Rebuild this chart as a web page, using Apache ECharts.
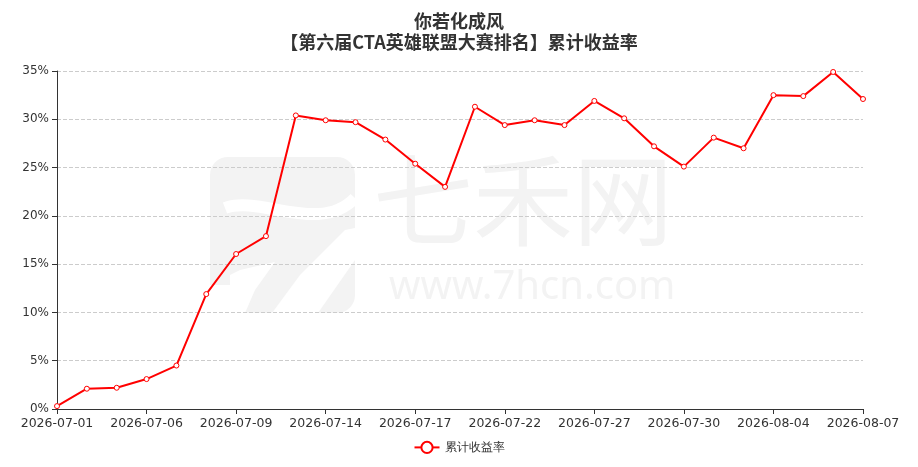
<!DOCTYPE html>
<html><head><meta charset="utf-8">
<script src="https://cdn.jsdelivr.net/npm/echarts@6/dist/echarts.min.js"></script>
<style>html,body{margin:0;padding:0;background:#fff}#c{width:918px;height:467px}</style>
</head><body><div id="c"></div>
<script>
const titleLines = ['你若化成风', '【第六届CTA英雄联盟大赛排名】累计收益率'];
const seriesName = '累计收益率';
const dates = ['2026-07-01','2026-07-02','2026-07-03','2026-07-06','2026-07-07','2026-07-08','2026-07-09','2026-07-10','2026-07-13','2026-07-14','2026-07-15','2026-07-16','2026-07-17','2026-07-20','2026-07-21','2026-07-22','2026-07-23','2026-07-24','2026-07-27','2026-07-28','2026-07-29','2026-07-30','2026-07-31','2026-08-03','2026-08-04','2026-08-05','2026-08-06','2026-08-07'];
const values = [0.3,2.1,2.2,3.1,4.5,11.9,16.05,17.9,30.4,29.9,29.7,27.9,25.4,23.0,31.3,29.4,29.9,29.4,31.9,30.1,27.2,25.1,28.1,27.0,32.5,32.4,34.9,32.1];
const yTicks = {min:0, max:35, interval:5};

const wm = '#f3f3f3';
const chart = echarts.init(document.getElementById('c'));
chart.setOption({
  animation:false,
  backgroundColor:'#fff',
  title:{text:titleLines.join('\n'), left:'center', top:6,
    textStyle:{fontSize:18, fontWeight:'bold', color:'#333', lineHeight:21, fontFamily:'"Noto Sans CJK SC", sans-serif'}},
  graphic:[
    {type:'rect', silent:true, z:-2, shape:{x:210, y:157, width:145, height:156, r:18}, style:{fill:wm}},
    {type:'bezierCurve', silent:true, z:-1, shape:{x1:225, y1:208, cpx1:260, cpy1:195, cpx2:320, cpy2:235, x2:355, y2:198}, style:{fill:null, stroke:'#fff', lineWidth:12}},
    {type:'polygon', silent:true, z:-1, shape:{points:[[345,230],[355,228],[355,260],[318,313],[272,313],[300,275]]}, style:{fill:'#fff'}},
    {type:'polygon', silent:true, z:-1, shape:{points:[[210,285],[240,270],[275,262],[255,290],[245,313],[210,313]]}, style:{fill:'#fff'}},
    {type:'rect', silent:true, z:-1, shape:{x:210, y:240, width:20, height:45}, style:{fill:wm}},
    {type:'text', left:373, top:150, silent:true, z:-1,
      style:{text:'七禾网', fill:wm, font:'100px "Noto Sans CJK SC"'}},
    {type:'text', left:389, top:268, silent:true, z:-1,
      style:{text:'www.7hcn.com', fill:wm, font:'40px "Noto Sans", sans-serif'}}
  ],
  legend:{bottom:8, left:'center', data:[seriesName], itemWidth:25, itemHeight:14,
    textStyle:{color:'#333', fontSize:12}},
  grid:{left:57, right:55, top:71, bottom:58},
  xAxis:{type:'category', data:dates, boundaryGap:false,
    axisLine:{lineStyle:{color:'#333'}}, axisTick:{alignWithLabel:true, interval:2, lineStyle:{color:'#333'}},
    axisLabel:{interval:2, color:'#333', fontSize:12.5, fontFamily:'"DejaVu Sans", sans-serif'}},
  yAxis:{type:'value', min:yTicks.min, max:yTicks.max, interval:yTicks.interval,
    axisLine:{show:true, lineStyle:{color:'#333'}}, axisTick:{show:true, lineStyle:{color:'#333'}},
    axisLabel:{formatter:'{value}%', color:'#333', fontSize:12, fontFamily:'"DejaVu Sans", sans-serif'},
    splitLine:{lineStyle:{type:'dashed', color:'#ccc'}}},
  series:[{name:seriesName, type:'line', data:values, symbol:'circle', symbolSize:5,
    itemStyle:{color:'#fff', borderColor:'#ff0000', borderWidth:1},
    lineStyle:{color:'#ff0000', width:2}, color:'#ff0000'}]
});
</script></body></html>
